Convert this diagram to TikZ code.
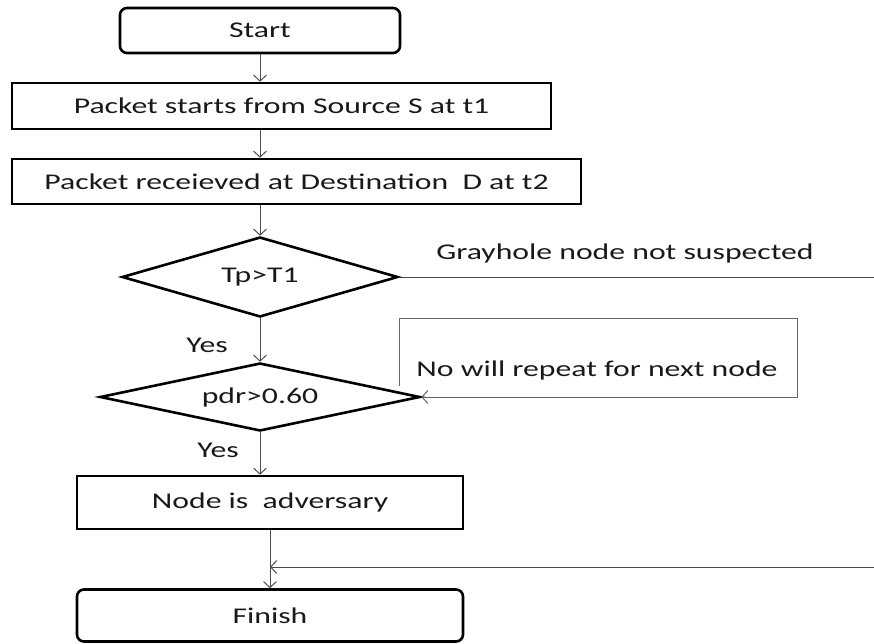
\documentclass[tikz,border=0pt]{standalone}
\usepackage{fontspec}
\setmainfont[FakeStretch=1.41]{Carlito}
\usetikzlibrary{shapes.geometric,arrows.meta}

\tikzset{
  box/.style={draw=black, line width=2.6pt, inner sep=0pt, text=black!90,
              font=\fontsize{22.5}{27}\selectfont},
  termbox/.style={box, rounded corners=7pt},
  decision/.style={box, diamond, shape aspect=3.5},
  conn/.style={draw=black!70, line width=1pt,
               -{Straight Barb[length=6pt,width=13pt]}},
  plainline/.style={draw=black!70, line width=1pt},
  lbl/.style={inner sep=0pt, text=black!90, font=\fontsize{22.5}{27}\selectfont}
}

\begin{document}
\begin{tikzpicture}[x=1pt,y=-1pt]
\useasboundingbox (0,0) rectangle (874,643);

% process steps
\node[termbox, minimum width=280pt, minimum height=45pt] (start) at (260,30.5) {Start};
\node[box, minimum width=539pt, minimum height=46pt] (pkt1) at (281.5,106) {Packet starts from Source S at t1};
\node[box, minimum width=569pt, minimum height=45pt] (pkt2) at (296.5,181.5) {Packet receieved at Destination\ \ D at t2};
\node[decision, minimum width=276pt, minimum height=80pt] (dec1) at (260,277) {Tp>T1};
\node[decision, minimum width=320pt, minimum height=68pt] (dec2) at (260,397) {pdr>0.60};
\node[box, minimum width=386pt, minimum height=53pt] (adv) at (270,502.5) {Node is\ \ adversary};
\node[termbox, minimum width=386pt, minimum height=52pt] (fin) at (270,615.5) {Finish};

% main flow
\draw[conn] (start.south) -- (start.south |- pkt1.north);
\draw[conn] (start.south |- pkt1.south) -- (start.south |- pkt2.north);
\draw[conn] (start.south |- pkt2.south) -- (dec1.north);
\draw[conn] (dec1.south) -- (dec2.north);
\draw[conn] (dec2.south) -- (dec2.south |- adv.north);
\draw[conn] (adv.south) -- (adv.south |- fin.north);

\node[lbl] (yes1) at (207,345) {Yes};
\node[lbl] (yes2) at (218,450) {Yes};

% not suspected branch
\coordinate (exit1) at (874,277);
\draw[plainline] (dec1.east) -- (exit1);
\node[lbl] (gray) at (625,253) {Grayhole node not suspected};

% repeat loop into the second test
\coordinate (lpa) at (399,386);
\coordinate (lpb) at (797,318);
\draw[conn, draw=black!60] (lpa) |- (lpb) |- (dec2.east);
\node[lbl] (rep) at (597,370) {No will repeat for next node};

% return line into the finish
\coordinate (ret) at (874,567);
\draw[conn] (ret) -- (ret -| adv.south);
\end{tikzpicture}
\end{document}
